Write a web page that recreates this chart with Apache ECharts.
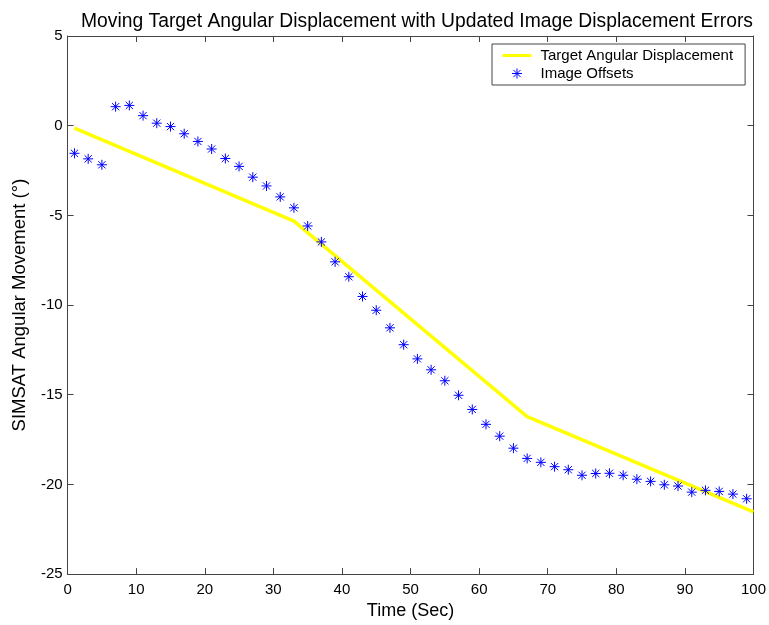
<!DOCTYPE html>
<html>
<head>
<meta charset="utf-8">
<script src="https://cdn.jsdelivr.net/npm/echarts@6/dist/echarts.min.js"></script>
<style>
html,body{margin:0;padding:0;background:#fff;}
#chart{width:769px;height:625px;}
</style>
</head>
<body>
<div id="chart"></div>
<script>
// Data
const offsetTimes = [1,3,5,7,9,11,13,15,17,19,21,23,25,27,29,31,33,35,37,39,41,43,45,47,49,51,53,55,57,59,61,63,65,67,69,71,73,75,77,79,81,83,85,87,89,91,93,95,97,99];
const imageOffsets = [-1.54,-1.85,-2.18,1.06,1.13,0.56,0.14,-0.05,-0.45,-0.88,-1.30,-1.83,-2.27,-2.87,-3.36,-3.97,-4.58,-5.59,-6.48,-7.59,-8.42,-9.52,-10.29,-11.27,-12.21,-13.00,-13.61,-14.22,-15.03,-15.82,-16.65,-17.31,-17.98,-18.55,-18.77,-19.01,-19.18,-19.49,-19.39,-19.38,-19.49,-19.71,-19.83,-20.02,-20.09,-20.43,-20.33,-20.39,-20.54,-20.80];
const targetTimes = [1,33,67,100];
const targetDisplacement = [-0.14,-5.32,-16.22,-21.53];
const xTicks = [0,10,20,30,40,50,60,70,80,90,100];
const yTicks = [5,0,-5,-10,-15,-20,-25];

const FONT = '"Liberation Sans", Arial, sans-serif';
const AX = '#444';
const star = 'path://M0,-5 L0,5 M-5,0 L5,0 M-3.6,-3.6 L3.6,3.6 M-3.6,3.6 L3.6,-3.6';
const starLegend = 'path://M-14.5,-5 M14.5,5 M0,-5 L0,5 M-5,0 L5,0 M-3.6,-3.6 L3.6,3.6 M-3.6,3.6 L3.6,-3.6';
const lineLegend = 'path://M0,0 M29,10 M0,3.5 L29,3.5 L29,6.5 L0,6.5 Z';

const chart = echarts.init(document.getElementById('chart'), null, {renderer:'canvas'});
function axisBase(){
  return {
    axisLine:{show:true, onZero:false, lineStyle:{color:AX, width:1}},
    axisTick:{show:true, inside:true, length:6, lineStyle:{color:AX}},
    splitLine:{show:false}
  };
}
chart.setOption({
  animation:false,
  backgroundColor:'#fff',
  title:{
    text:'Moving Target Angular Displacement with Updated Image Displacement Errors',
    left:412, textAlign:'center', top:7,
    textStyle:{fontFamily:FONT, fontSize:19.3, fontWeight:'normal', color:'#000'}
  },
  legend:{
    orient:'vertical', left:492, top:44,
    padding:[4,12,4,10], itemGap:3, itemWidth:29, itemHeight:10,
    backgroundColor:'#fff', borderColor:AX, borderWidth:1,
    textStyle:{fontFamily:FONT, fontSize:15, color:'#000', padding:[0,0,0,4]},
    data:[
      {name:'Target Angular Displacement', icon:lineLegend, itemStyle:{color:'#ffff00', borderWidth:0}},
      {name:'Image Offsets', icon:starLegend, itemStyle:{color:'rgba(0,0,0,0)', borderColor:'#0000ff', borderWidth:1}}
    ]
  },
  grid:{left:67.6, right:13, top:36, bottom:46.3},
  xAxis:[
    Object.assign(axisBase(), {
      type:'value', min:0, max:100, interval:10, position:'bottom',
      axisLabel:{fontFamily:FONT, fontSize:15, color:'#000', margin:8,
        formatter:v => xTicks.includes(v) ? String(v) : ''},
      name:'Time (Sec)', nameLocation:'middle', nameGap:26,
      nameTextStyle:{fontFamily:FONT, fontSize:18, color:'#000'}
    }),
    Object.assign(axisBase(), {
      type:'value', min:0, max:100, interval:10, position:'top',
      axisLabel:{show:false}
    })
  ],
  yAxis:[
    Object.assign(axisBase(), {
      type:'value', min:-25, max:5, interval:5, position:'left',
      axisLabel:{fontFamily:FONT, fontSize:15, color:'#000', margin:5,
        formatter:v => yTicks.includes(v) ? String(v) : ''},
      name:'SIMSAT Angular Movement (°)', nameLocation:'middle', nameGap:38,
      nameTextStyle:{fontFamily:FONT, fontSize:18.5, color:'#000'}
    }),
    Object.assign(axisBase(), {
      type:'value', min:-25, max:5, interval:5, position:'right',
      axisLabel:{show:false}
    })
  ],
  series:[
    {
      name:'Target Angular Displacement', type:'line',
      data: targetTimes.map((t,i)=>[t, targetDisplacement[i]]),
      showSymbol:false, symbol:'none',
      lineStyle:{color:'#ffff00', width:3.5},
      itemStyle:{color:'#ffff00'},
      z:2
    },
    {
      name:'Image Offsets', type:'scatter',
      data: offsetTimes.map((t,i)=>[t, imageOffsets[i]]),
      symbol:star, symbolSize:10, symbolKeepAspect:true,
      itemStyle:{color:'rgba(0,0,0,0)', borderColor:'#0000ff', borderWidth:1, opacity:1},
      z:3
    }
  ]
});
</script>
</body>
</html>
